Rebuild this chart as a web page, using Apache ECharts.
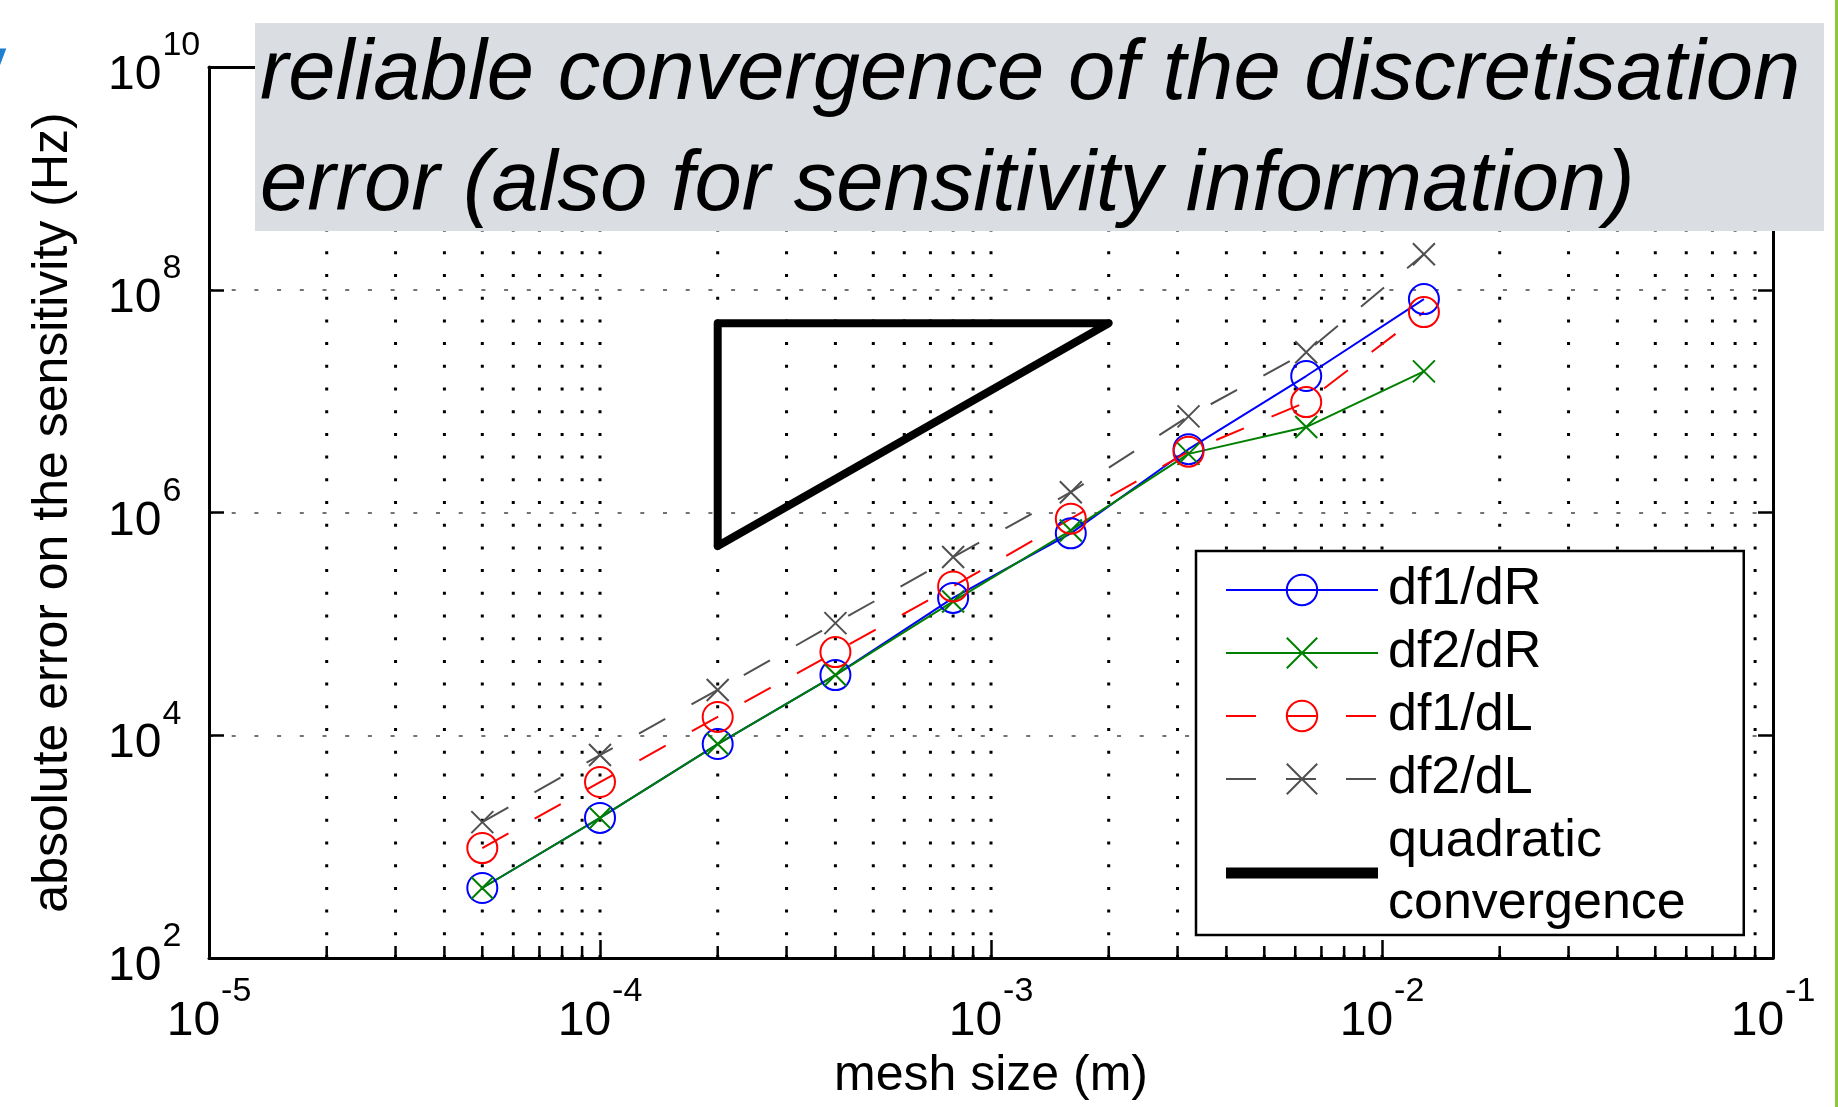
<!DOCTYPE html>
<html>
<head>
<meta charset="utf-8">
<script src="https://cdn.jsdelivr.net/npm/echarts@6/dist/echarts.min.js"></script>
<style>
  html, body { margin: 0; padding: 0; background: #fff; }
  #chart { width: 1838px; height: 1107px; }
</style>
</head>
<body>
<div id="chart"></div>
<script>
    // mesh sizes (m) of the refinement study
    const meshSize = [5e-5, 1e-4, 2e-4, 4e-4, 8e-4, 1.6e-3, 3.2e-3, 6.4e-3, 1.28e-2];

    // absolute error on the sensitivity (Hz)
    const df1dR = [425, 1810, 8340, 34700, 171000, 650000, 3.7e6, 1.68e7, 8.24e7];
    const df2dR = [425, 1810, 8340, 34700, 159000, 690000, 3.36e6, 5.85e6, 1.85e7];
    const df1dL = [970, 3800, 14600, 55800, 217000, 880000, 3.52e6, 9.8e6, 6.3e7];
    const df2dL = [1660, 6640, 25500, 101600, 398000, 1.52e6, 7.3e6, 2.75e7, 2.08e8];

    // slope-2 triangle
    const triX = [2e-4, 2e-4, 2e-3, 2e-4];
    const triY = [5e5, 5e7, 5e7, 5e5];

    // axis ranges and vertical grid positions
    const xMin = 1e-5, xMax = 1e-1;
    const yMin = 1e2, yMax = 1e10;
    const decades = [1e-5, 1e-4, 1e-3, 1e-2];
    const mantissas = [1, 2, 3, 4, 5, 6, 7, 8, 9];

    const gridX = [];
    decades.forEach(d => mantissas.forEach(m => {
      const v = d * m;
      if (v > xMin * 1.0001) gridX.push(v);
    }));

    const pairs = (xs, ys) => xs.map((x, i) => [x, ys[i]]);

    const chart = echarts.init(document.getElementById('chart'));

    const FONT = '"Liberation Sans", Arial, sans-serif';
    const axisRich = {
      b: { fontSize: 48, lineHeight: 80, verticalAlign: 'bottom', color: '#000', fontFamily: FONT },
      e: { fontSize: 34, verticalAlign: 'top', padding: [9, 0, 0, 1], color: '#000', fontFamily: FONT }
    };
    const powLabel = v => '{b|10}{e|' + Math.round(Math.log10(v)) + '}';

    function renderGrid(params, api) {
      const v = api.value(0);
      const b = api.coord([v, yMin]);
      const t = api.coord([v, yMax]);
      const children = [{
        type: 'line',
        shape: { x1: b[0], y1: b[1], x2: t[0], y2: t[1] },
        style: { stroke: '#000', lineWidth: 3, lineDash: [3, 19.7] }
      }];
      const lg = Math.log10(v);
      if (Math.abs(lg - Math.round(lg)) > 1e-6) {
        children.push({ type: 'line', shape: { x1: b[0], y1: b[1], x2: b[0], y2: b[1] - 12 },
          style: { stroke: '#000', lineWidth: 2.5 } });
        children.push({ type: 'line', shape: { x1: t[0], y1: t[1], x2: t[0], y2: t[1] + 12 },
          style: { stroke: '#000', lineWidth: 2.5 } });
      }
      return { type: 'group', children: children };
    }

    const xCross = 'path://M0,0L10,10M10,0L0,10';

    const option = {
      animation: false,
      backgroundColor: '#fff',
      grid: { left: 209, right: 65, top: 67, bottom: 149, outerBoundsMode: 'none', containLabel: false },
      xAxis: [{
        type: 'log', logBase: 10, min: xMin, max: xMax, interval: 1,
        name: 'mesh size (m)', nameLocation: 'middle', nameGap: 90,
        nameTextStyle: { fontSize: 50, color: '#000', fontFamily: FONT },
        axisLine: { lineStyle: { color: '#000', width: 3 } },
        axisTick: { inside: true, length: 18, lineStyle: { color: '#000', width: 2.5 } },
        axisLabel: { margin: 8, showMinLabel: true, showMaxLabel: true,
          alignMinLabel: 'center', alignMaxLabel: 'center',
          formatter: powLabel, rich: axisRich },
        splitLine: { show: false },
        minorTick: { show: false }
      }, {
        type: 'log', logBase: 10, min: xMin, max: xMax, interval: 1, position: 'top',
        axisLine: { lineStyle: { color: '#000', width: 3 } },
        axisTick: { inside: true, length: 18, lineStyle: { color: '#000', width: 2.5 } },
        axisLabel: { show: false },
        splitLine: { show: false }
      }],
      yAxis: [{
        type: 'log', logBase: 10, min: yMin, max: yMax, interval: 2,
        name: 'absolute error on the sensitivity (Hz)', nameLocation: 'middle', nameGap: 131,
        nameTextStyle: { fontSize: 50, color: '#000', fontFamily: FONT },
        axisLine: { lineStyle: { color: '#000', width: 3 } },
        axisTick: { inside: true, length: 15, lineStyle: { color: '#000', width: 2.5 } },
        axisLabel: { align: 'left', margin: 101, verticalAlign: 'middle', padding: [0, 0, 14, 0],
          verticalAlignMinLabel: 'middle', verticalAlignMaxLabel: 'middle',
          showMinLabel: true, showMaxLabel: true, formatter: powLabel, rich: axisRich },
        splitLine: { show: true, lineStyle: { color: '#444', width: 1.5, type: [4, 18.7] } }
      }, {
        type: 'log', logBase: 10, min: yMin, max: yMax, interval: 2, position: 'right',
        axisLine: { lineStyle: { color: '#000', width: 3 } },
        axisTick: { inside: true, length: 15, lineStyle: { color: '#000', width: 2.5 } },
        axisLabel: { show: false },
        splitLine: { show: false }
      }],
      legend: {
        orient: 'vertical',
        left: 1196, top: 551,
        padding: [8, 58, 0, 29],
        backgroundColor: '#fff',
        borderColor: '#000', borderWidth: 2.5,
        itemWidth: 152, itemHeight: 38, itemGap: 1, itemTextGap: 32,
        selectedMode: false,
        textStyle: { fontSize: 52, lineHeight: 62, padding: [0, 0, 0, 5], color: '#000', fontFamily: FONT },
        data: ['df1/dR', 'df2/dR', 'df1/dL', 'df2/dL',
          { name: 'quadratic\nconvergence', icon: 'path://M0,0H152V11H0Z' }]
      },
      series: [
        {
          type: 'custom', name: 'grid', z: 1, silent: true,
          xAxisIndex: 0, yAxisIndex: 0,
          data: gridX.map(v => [v, yMin]),
          renderItem: renderGrid
        },
        {
          name: 'df1/dR', type: 'line', data: pairs(meshSize, df1dR),
          symbol: 'circle', symbolSize: 30,
          itemStyle: { color: 'rgba(0,0,0,0)', borderColor: '#0000ff', borderWidth: 2 },
          lineStyle: { color: '#0000ff', width: 2 }
        },
        {
          name: 'df2/dR', type: 'line', data: pairs(meshSize, df2dR),
          symbol: xCross, symbolSize: 22,
          itemStyle: { color: 'rgba(0,0,0,0)', borderColor: '#008000', borderWidth: 2 },
          lineStyle: { color: '#008000', width: 2 }
        },
        {
          name: 'df1/dL', type: 'line', data: pairs(meshSize, df1dL),
          symbol: 'circle', symbolSize: 30,
          itemStyle: { color: 'rgba(0,0,0,0)', borderColor: '#ff0000', borderWidth: 2 },
          lineStyle: { color: '#ff0000', width: 2, type: [30, 30] }
        },
        {
          name: 'df2/dL', type: 'line', data: pairs(meshSize, df2dL),
          symbol: xCross, symbolSize: 22,
          itemStyle: { color: 'rgba(0,0,0,0)', borderColor: '#505050', borderWidth: 2 },
          lineStyle: { color: '#505050', width: 2, type: [30, 30] }
        },
        {
          name: 'quadratic\nconvergence', type: 'line', data: pairs(triX, triY),
          symbol: 'none',
          itemStyle: { color: '#000' },
          lineStyle: { color: '#000', width: 8, join: 'round', cap: 'round' }
        }
      ],
      graphic: [
        {
          type: 'rect', z: 100,
          shape: { x: 255, y: 23, width: 1569, height: 208 },
          style: { fill: '#dadee2' }
        },
        {
          type: 'text', z: 101, x: 260, y: 20,
          style: {
            text: 'reliable convergence of the discretisation\nerror (also for sensitivity information)',
            font: 'italic 85px "Liberation Sans", Arial, sans-serif',
            lineHeight: 111, fill: '#000', verticalAlign: 'top'
          }
        },
        {
          type: 'text', z: 101, x: -40, y: 28,
          style: { text: 'y', font: 'bold 84px "Liberation Sans", Arial, sans-serif', fill: '#1d7fcf' }
        },
        {
          type: 'rect', z: 100,
          shape: { x: 1835, y: 0, width: 3, height: 1107 },
          style: { fill: '#8dc63f' }
        }
      ]
    };

    chart.setOption(option);

    window.addEventListener('resize', () => chart.resize());
</script>
</body>
</html>
